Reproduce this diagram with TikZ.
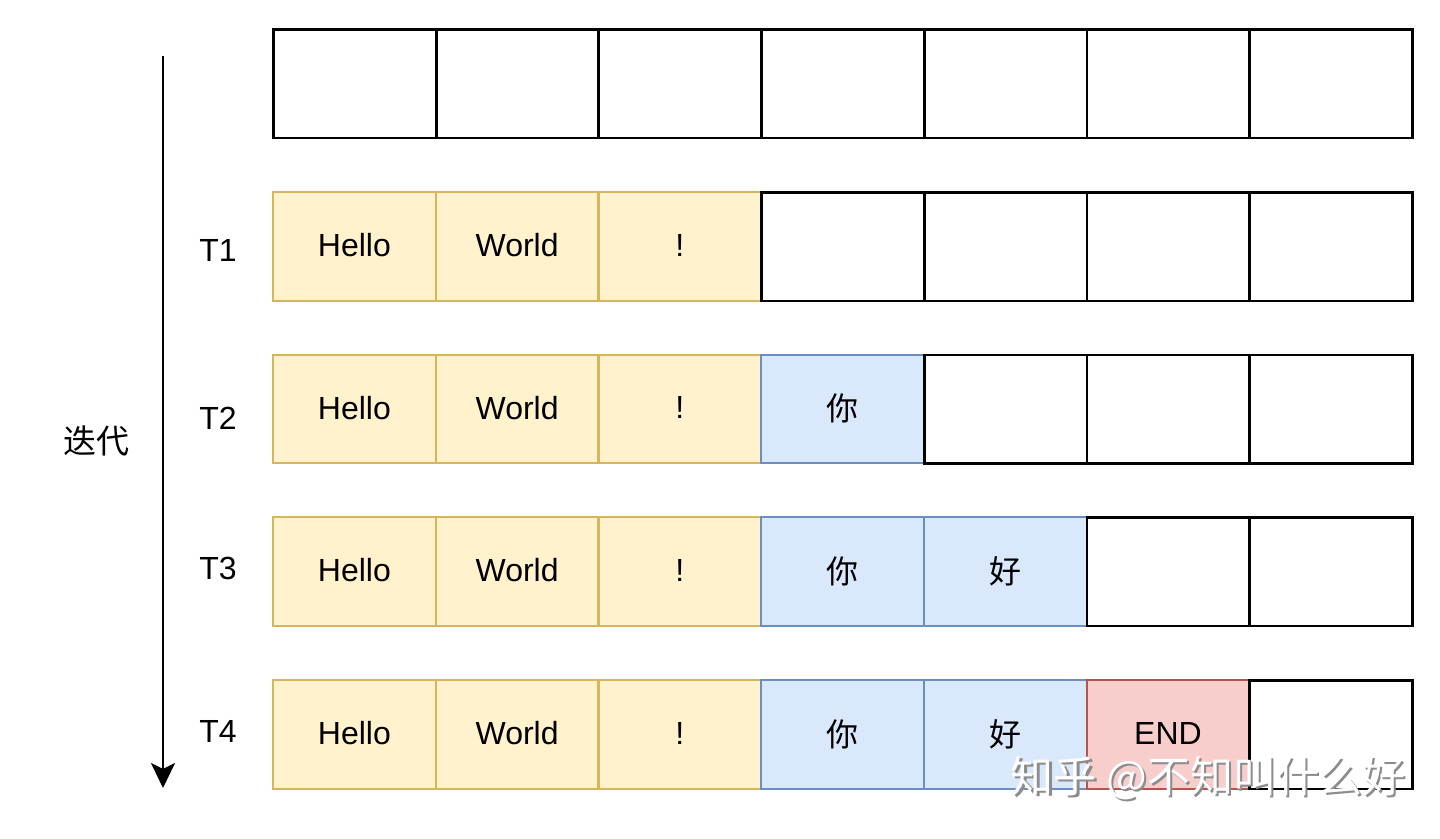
\documentclass[tikz,border=0pt]{standalone}
\usepackage{fontspec}
\setmainfont{Liberation Sans}
\newfontfamily\cjk{Noto Sans CJK SC}
\usetikzlibrary{arrows.meta}
\definecolor{yfill}{HTML}{FFF2CC}
\definecolor{ydraw}{HTML}{D6B656}
\definecolor{bfill}{HTML}{DAE8FC}
\definecolor{bdraw}{HTML}{6C8EBF}
\definecolor{rfill}{HTML}{F8CECC}
\definecolor{rdraw}{HTML}{B85450}
\newcommand{\up}[1]{\raisebox{2pt}{#1}}
\tikzset{
  cell/.style={minimum width=162.7pt, minimum height=108.5pt, inner sep=0pt, anchor=north west, font=\fontsize{32}{38}\selectfont},
  emptycell/.style={cell, draw=black, fill=white, line width=2.8pt},
  ycell/.style={cell, draw=ydraw, fill=yfill, line width=2.2pt},
  bcell/.style={cell, draw=bdraw, fill=bfill, line width=2.2pt},
  rcell/.style={cell, draw=rdraw, fill=rfill, line width=2.2pt},
  tlabel/.style={font=\fontsize{32}{38}\selectfont, inner sep=0pt},
  wmtext/.style={font=\cjk\fontsize{43}{50}\selectfont, inner sep=0pt, anchor=center},
}
\begin{document}
\begin{tikzpicture}[x=1pt,y=-1pt]
\useasboundingbox (0,0) rectangle (1440,838);
\def\cw{162.7}
% row 0 (all empty)
\foreach \c in {0,...,6} {
  \node[emptycell] (c0\c) at (272+\c*\cw,28) {};
}
% row tops
\def\ra{191}\def\rb{353.5}\def\rc{516}\def\rd{679}
% row 1
\node[ycell] (c10) at (272+0*\cw,\ra) {\up{Hello}};
\node[ycell] (c11) at (272+1*\cw,\ra) {\up{World}};
\node[ycell] (c12) at (272+2*\cw,\ra) {\up{!}};
\foreach \c in {3,...,6} { \node[emptycell] (c1\c) at (272+\c*\cw,\ra) {}; }
% row 2
\node[ycell] (c20) at (272+0*\cw,\rb) {\up{Hello}};
\node[ycell] (c21) at (272+1*\cw,\rb) {\up{World}};
\node[ycell] (c22) at (272+2*\cw,\rb) {\up{!}};
\node[bcell] (c23) at (272+3*\cw,\rb) {\cjk 你};
\foreach \c in {4,...,6} { \node[emptycell] (c2\c) at (272+\c*\cw,\rb) {}; }
% row 3
\node[ycell] (c30) at (272+0*\cw,\rc) {\up{Hello}};
\node[ycell] (c31) at (272+1*\cw,\rc) {\up{World}};
\node[ycell] (c32) at (272+2*\cw,\rc) {\up{!}};
\node[bcell] (c33) at (272+3*\cw,\rc) {\cjk 你};
\node[bcell] (c34) at (272+4*\cw,\rc) {\cjk 好};
\foreach \c in {5,6} { \node[emptycell] (c3\c) at (272+\c*\cw,\rc) {}; }
% row 4
\node[ycell] (c40) at (272+0*\cw,\rd) {\up{Hello}};
\node[ycell] (c41) at (272+1*\cw,\rd) {\up{World}};
\node[ycell] (c42) at (272+2*\cw,\rd) {\up{!}};
\node[bcell] (c43) at (272+3*\cw,\rd) {\cjk 你};
\node[bcell] (c44) at (272+4*\cw,\rd) {\cjk 好};
\node[rcell] (c45) at (272+5*\cw,\rd) {\up{END}};
\node[emptycell] (c46) at (272+6*\cw,\rd) {};
% row labels
\node[tlabel] (t1) at (218,250) {T1};
\node[tlabel] (t2) at (218,418) {T2};
\node[tlabel] (t3) at (218,568) {T3};
\node[tlabel] (t4) at (218,731) {T4};
\node[tlabel, font=\cjk\fontsize{33}{39}\selectfont] (iter) at (96,441) {迭代};
% arrow
\coordinate (as) at (163,56);
\coordinate (ae) at (163,788);
\draw[line width=2.8pt, -{Stealth[length=25pt,width=24pt,inset=6pt]}] (as) -- (ae);
% watermark
\node[wmtext, text=black!45] (wmshadow) at (1210.5,780.5) {知乎 @不知叫什么好};
\node[wmtext, text=white] (wm) at (1208,778) {知乎 @不知叫什么好};
\end{tikzpicture}
\end{document}
